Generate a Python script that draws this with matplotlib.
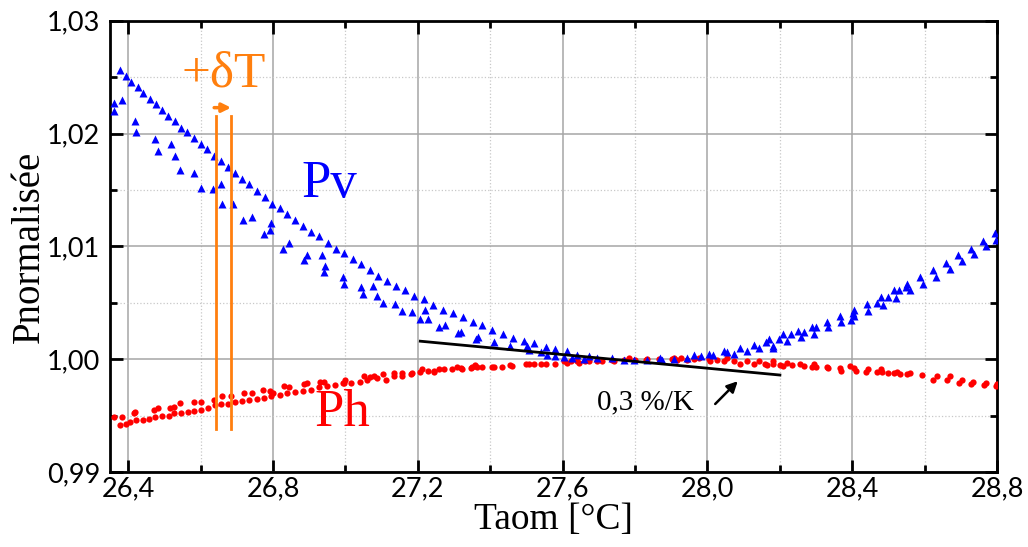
import numpy as np
import matplotlib
matplotlib.use("Agg")
import matplotlib.pyplot as plt
from matplotlib.ticker import MultipleLocator, FuncFormatter

# ─── DATA ────────────────────────────────────────────────────────────────────

# Pv, main sweep (left, smooth descending branch)
pv_a_temp = [26.377, 26.393, 26.409, 26.426, 26.442, 26.460, 26.476, 26.494, 26.511, 26.529,
             26.546, 26.564, 26.582, 26.600, 26.618, 26.638, 26.657, 26.675, 26.696, 26.715,
             26.734, 26.756, 26.777, 26.798, 26.819, 26.840, 26.862, 26.883, 26.904, 26.928,
             26.951, 26.973, 26.997, 27.020, 27.043, 27.067, 27.091, 27.115, 27.140, 27.164,
             27.190, 27.217, 27.243, 27.269, 27.296, 27.324, 27.352]
pv_a_norm = [1.0256, 1.0251, 1.0246, 1.0241, 1.0236, 1.0231, 1.0226, 1.0221, 1.0216, 1.0211,
             1.0205, 1.0201, 1.0196, 1.0191, 1.0186, 1.0180, 1.0176, 1.0170, 1.0165, 1.0160,
             1.0155, 1.0149, 1.0144, 1.0138, 1.0134, 1.0129, 1.0123, 1.0118, 1.0113, 1.0109,
             1.0103, 1.0098, 1.0094, 1.0089, 1.0084, 1.0079, 1.0074, 1.0069, 1.0065, 1.0061,
             1.0056, 1.0053, 1.0048, 1.0044, 1.0041, 1.0037, 1.0033]

# Pv, scattered lower points (left)
pv_b_temp = [26.362, 26.383, 26.360, 26.418, 26.421, 26.473, 26.482, 26.519, 26.530, 26.542,
             26.583, 26.600, 26.635, 26.657, 26.660, 26.690, 26.718, 26.743, 26.775, 26.793,
             26.795, 26.828, 26.844, 26.887, 26.894, 26.936, 26.943, 26.941, 26.993, 26.996,
             27.042, 27.049, 27.077, 27.088, 27.103, 27.136, 27.156, 27.183, 27.207, 27.219,
             27.229, 27.259, 27.275, 27.311, 27.320, 27.362, 27.366]
pv_b_norm = [1.0227, 1.0230, 1.0220, 1.0211, 1.0201, 1.0195, 1.0185, 1.0191, 1.0180, 1.0168,
             1.0165, 1.0152, 1.0151, 1.0155, 1.0138, 1.0138, 1.0123, 1.0126, 1.0111, 1.0115,
             1.0121, 1.0098, 1.0103, 1.0088, 1.0092, 1.0092, 1.0083, 1.0077, 1.0073, 1.0067,
             1.0064, 1.0058, 1.0065, 1.0056, 1.0050, 1.0049, 1.0043, 1.0042, 1.0036, 1.0044,
             1.0036, 1.0029, 1.0030, 1.0023, 1.0024, 1.0018, 1.0020]

# Pv, around the minimum
pv_c_temp = [27.378, 27.406, 27.410, 27.435, 27.456, 27.464, 27.493, 27.502, 27.507, 27.522,
             27.539, 27.553, 27.556, 27.580, 27.580, 27.611, 27.605, 27.640, 27.627, 27.672,
             27.659, 27.696, 27.737, 27.769, 27.797, 27.834, 27.870, 27.875, 27.907, 27.944,
             27.962, 27.981, 28.004, 28.016, 28.045, 28.055, 28.073, 28.089, 28.110, 28.128,
             28.142]
pv_c_norm = [1.0030, 1.0026, 1.0015, 1.0022, 1.0012, 1.0019, 1.0016, 1.0012, 1.0008, 1.0014,
             1.0006, 1.0011, 1.0004, 1.0009, 1.0003, 1.0007, 1.0002, 1.0004, 1.0001, 1.0003,
             1.0000, 1.0001, 1.0001, 0.9999, 0.9999, 0.9999, 1.0001, 0.9999, 1.0000, 1.0001,
             1.0004, 1.0003, 1.0005, 1.0004, 1.0007, 1.0006, 1.0005, 1.0010, 1.0007, 1.0013,
             1.0010]

# Pv, rising right branch
pv_d_temp = [28.163, 28.170, 28.182, 28.181, 28.197, 28.209, 28.219, 28.232, 28.251, 28.257,
             28.266, 28.290, 28.299, 28.294, 28.329, 28.333, 28.366, 28.368, 28.395, 28.403,
             28.404, 28.406, 28.440, 28.444, 28.469, 28.480, 28.484, 28.499, 28.515, 28.520,
             28.530, 28.547, 28.552, 28.559, 28.587, 28.596, 28.624, 28.632, 28.659, 28.669,
             28.692, 28.703, 28.727, 28.736, 28.762, 28.768, 28.794, 28.798]
pv_d_norm = [1.0015, 1.0018, 1.0012, 1.0010, 1.0018, 1.0022, 1.0016, 1.0022, 1.0025, 1.0020,
             1.0024, 1.0029, 1.0029, 1.0022, 1.0033, 1.0029, 1.0038, 1.0033, 1.0035, 1.0041,
             1.0044, 1.0038, 1.0049, 1.0043, 1.0050, 1.0055, 1.0048, 1.0055, 1.0061, 1.0054,
             1.0061, 1.0064, 1.0067, 1.0061, 1.0073, 1.0067, 1.0079, 1.0073, 1.0085, 1.0080,
             1.0092, 1.0087, 1.0098, 1.0093, 1.0105, 1.0100, 1.0112, 1.0106]

# Ph, lower band (left)
ph_a_temp = [26.360, 26.377, 26.393, 26.406, 26.423, 26.441, 26.459, 26.475, 26.494, 26.512,
             26.528, 26.546, 26.565, 26.583, 26.600, 26.620, 26.641, 26.657, 26.675, 26.694,
             26.715, 26.733, 26.756, 26.775, 26.796, 26.819, 26.839, 26.862, 26.883, 26.906,
             26.927, 26.950, 26.970, 26.994, 27.016, 27.040, 27.060, 27.086, 27.111, 27.134,
             27.157, 27.180, 27.206, 27.228, 27.244, 27.272, 27.295, 27.318, 27.346, 27.364,
             27.410]
ph_a_norm = [0.9949, 0.9942, 0.9943, 0.9944, 0.9946, 0.9946, 0.9947, 0.9949, 0.9950, 0.9950,
             0.9952, 0.9952, 0.9953, 0.9954, 0.9955, 0.9957, 0.9959, 0.9960, 0.9960, 0.9962,
             0.9963, 0.9964, 0.9965, 0.9966, 0.9967, 0.9968, 0.9970, 0.9971, 0.9972, 0.9973,
             0.9975, 0.9976, 0.9977, 0.9979, 0.9979, 0.9980, 0.9982, 0.9983, 0.9982, 0.9985,
             0.9985, 0.9987, 0.9989, 0.9990, 0.9989, 0.9991, 0.9991, 0.9992, 0.9992, 0.9993,
             0.9993]

# Ph, upper band (left)
ph_b_temp = [26.383, 26.415, 26.420, 26.471, 26.482, 26.517, 26.526, 26.543, 26.581, 26.600,
             26.636, 26.660, 26.683, 26.719, 26.743, 26.773, 26.793, 26.801, 26.830, 26.844,
             26.887, 26.894, 26.931, 26.940, 26.998, 26.996, 27.051, 27.067, 27.080, 27.104,
             27.134, 27.157, 27.185, 27.212, 27.244, 27.258, 27.309, 27.359]
ph_b_norm = [0.9949, 0.9952, 0.9953, 0.9955, 0.9957, 0.9957, 0.9958, 0.9961, 0.9962, 0.9962,
             0.9964, 0.9967, 0.9967, 0.9970, 0.9970, 0.9973, 0.9972, 0.9970, 0.9976, 0.9975,
             0.9978, 0.9979, 0.9980, 0.9980, 0.9982, 0.9979, 0.9985, 0.9984, 0.9985, 0.9987,
             0.9988, 0.9988, 0.9988, 0.9991, 0.9990, 0.9991, 0.9993, 0.9995]

# Ph, around the maximum
ph_c_temp = [27.323, 27.350, 27.359, 27.378, 27.406, 27.433, 27.456, 27.461, 27.498, 27.507,
             27.520, 27.539, 27.553, 27.580, 27.603, 27.613, 27.622, 27.640, 27.645, 27.663,
             27.672, 27.696, 27.709, 27.737, 27.741, 27.769, 27.783, 27.801, 27.829, 27.834,
             27.866, 27.870, 27.903, 27.907, 27.917, 27.926, 27.944, 27.962, 27.976, 28.004,
             28.007, 28.027, 28.045, 28.055, 28.073, 28.091, 28.110, 28.128, 28.142]
ph_c_norm = [0.9991, 0.9993, 0.9994, 0.9993, 0.9993, 0.9993, 0.9995, 0.9994, 0.9996, 0.9996,
             0.9996, 0.9996, 0.9996, 0.9996, 0.9998, 0.9997, 0.9998, 0.9998, 0.9997, 0.9998,
             0.9998, 0.9998, 0.9998, 0.9999, 0.9998, 0.9999, 1.0001, 0.9999, 0.9999, 1.0000,
             1.0000, 0.9999, 1.0000, 1.0001, 0.9999, 1.0001, 0.9999, 1.0000, 1.0001, 1.0000,
             0.9998, 0.9999, 0.9998, 1.0001, 0.9998, 0.9996, 0.9998, 0.9996, 0.9998]

# Ph, falling right branch
ph_d_temp = [28.160, 28.165, 28.181, 28.182, 28.200, 28.209, 28.220, 28.234, 28.255, 28.266,
             28.290, 28.294, 28.299, 28.329, 28.334, 28.366, 28.368, 28.393, 28.404, 28.409,
             28.437, 28.443, 28.469, 28.478, 28.483, 28.499, 28.515, 28.524, 28.531, 28.552,
             28.559, 28.593, 28.624, 28.633, 28.662, 28.669, 28.694, 28.702, 28.729, 28.734,
             28.764, 28.768, 28.796, 28.799]
ph_d_norm = [0.9996, 0.9995, 0.9998, 0.9996, 0.9995, 0.9994, 0.9997, 0.9995, 0.9996, 0.9994,
             0.9993, 0.9996, 0.9993, 0.9993, 0.9992, 0.9992, 0.9990, 0.9994, 0.9992, 0.9990,
             0.9989, 0.9991, 0.9989, 0.9991, 0.9989, 0.9988, 0.9988, 0.9989, 0.9987, 0.9987,
             0.9988, 0.9986, 0.9982, 0.9985, 0.9982, 0.9985, 0.9979, 0.9982, 0.9978, 0.9980,
             0.9977, 0.9979, 0.9976, 0.9978]

# annotations
slope_temp = [27.207, 28.200]        # 0,3 %/K guide line
slope_norm = [1.0016, 0.9986]
dT_temp = [26.644, 26.683]           # the two +δT markers
dT_norm = [0.9938, 1.0216]

x_ticks = [26.4, 26.8, 27.2, 27.6, 28.0, 28.4, 28.8]
y_ticks = [0.99, 1.00, 1.01, 1.02, 1.03]

pv_temp = pv_a_temp + pv_b_temp + pv_c_temp + pv_d_temp
pv_norm = pv_a_norm + pv_b_norm + pv_c_norm + pv_d_norm
ph_temp = ph_a_temp + ph_b_temp + ph_c_temp + ph_d_temp
ph_norm = ph_a_norm + ph_b_norm + ph_c_norm + ph_d_norm

# ─── FIGURE ──────────────────────────────────────────────────────────────────

SERIF = "Liberation Serif"
TICKFONT = "Lato"
ORANGE = "#ff7f0e"

fig = plt.figure(figsize=(10.28, 5.47), dpi=100)
ax = fig.add_axes([0.107, 0.137, 0.863, 0.825])

ax.plot(ph_temp, ph_norm, "o", color="#ff0000", ms=4.5, mec="none", zorder=3)
ax.plot(pv_temp, pv_norm, "^", color="#0000ff", ms=5.5, mec="none", zorder=3)

ax.plot(slope_temp, slope_norm, color="black", lw=2, zorder=4)
ax.annotate("", xy=(28.089, 0.99823), xytext=(28.016, 0.99586),
            arrowprops=dict(arrowstyle="-|>", color="black", lw=1.8,
                            mutation_scale=16), zorder=4)
ax.text(27.829, 0.9962, "0,3 %/K", family=SERIF, fontsize=21,
        ha="center", va="center", zorder=5)

for xv in dT_temp:
    ax.plot([xv, xv], dT_norm, color=ORANGE, lw=2, zorder=4)
ax.annotate("", xy=(26.692, 1.0223), xytext=(26.630, 1.0223),
            arrowprops=dict(arrowstyle="-|>", color=ORANGE, lw=2.5,
                            mutation_scale=13), zorder=4)
ax.text(26.663, 1.0253, "+δT", family=SERIF, fontsize=37, color=ORANGE,
        ha="center", va="center", zorder=5)

ax.text(26.955, 1.0155, "Pv", family=SERIF, fontsize=38, color="#0000ff",
        ha="center", va="center", zorder=5)
ax.text(26.992, 0.9952, "Ph", family=SERIF, fontsize=38, color="#ff0000",
        ha="center", va="center", zorder=5)

ax.set_xlim(26.35, 28.8)
ax.set_ylim(0.99, 1.03)
ax.set_xticks(x_ticks)
ax.set_yticks(y_ticks)
ax.xaxis.set_minor_locator(MultipleLocator(0.2))
ax.yaxis.set_minor_locator(MultipleLocator(0.005))
ax.xaxis.set_major_formatter(FuncFormatter(lambda v, p: f"{v:.1f}".replace(".", ",")))
ax.yaxis.set_major_formatter(FuncFormatter(lambda v, p: f"{v:.2f}".replace(".", ",")))

ax.grid(which="major", color="#a6a6a6", lw=1.1, zorder=0)
ax.grid(which="minor", color="#c8c8c8", lw=0.9, ls=":", zorder=0)
ax.set_axisbelow(True)

ax.tick_params(which="both", direction="in", top=True, right=True, width=2)
ax.tick_params(which="major", length=9, labelsize=19.5, pad=3)
ax.tick_params(which="minor", length=5)
ax.tick_params(axis="y", pad=7)
for lab in ax.get_xticklabels() + ax.get_yticklabels():
    lab.set_family(TICKFONT)
for sp in ax.spines.values():
    sp.set_linewidth(2)

ax.set_xlabel("Taom [°C]", family=SERIF, fontsize=27, labelpad=1)
ax.set_ylabel("Pnormalisée", family=SERIF, fontsize=28, labelpad=-1)

fig.savefig("out.png", dpi=100)
